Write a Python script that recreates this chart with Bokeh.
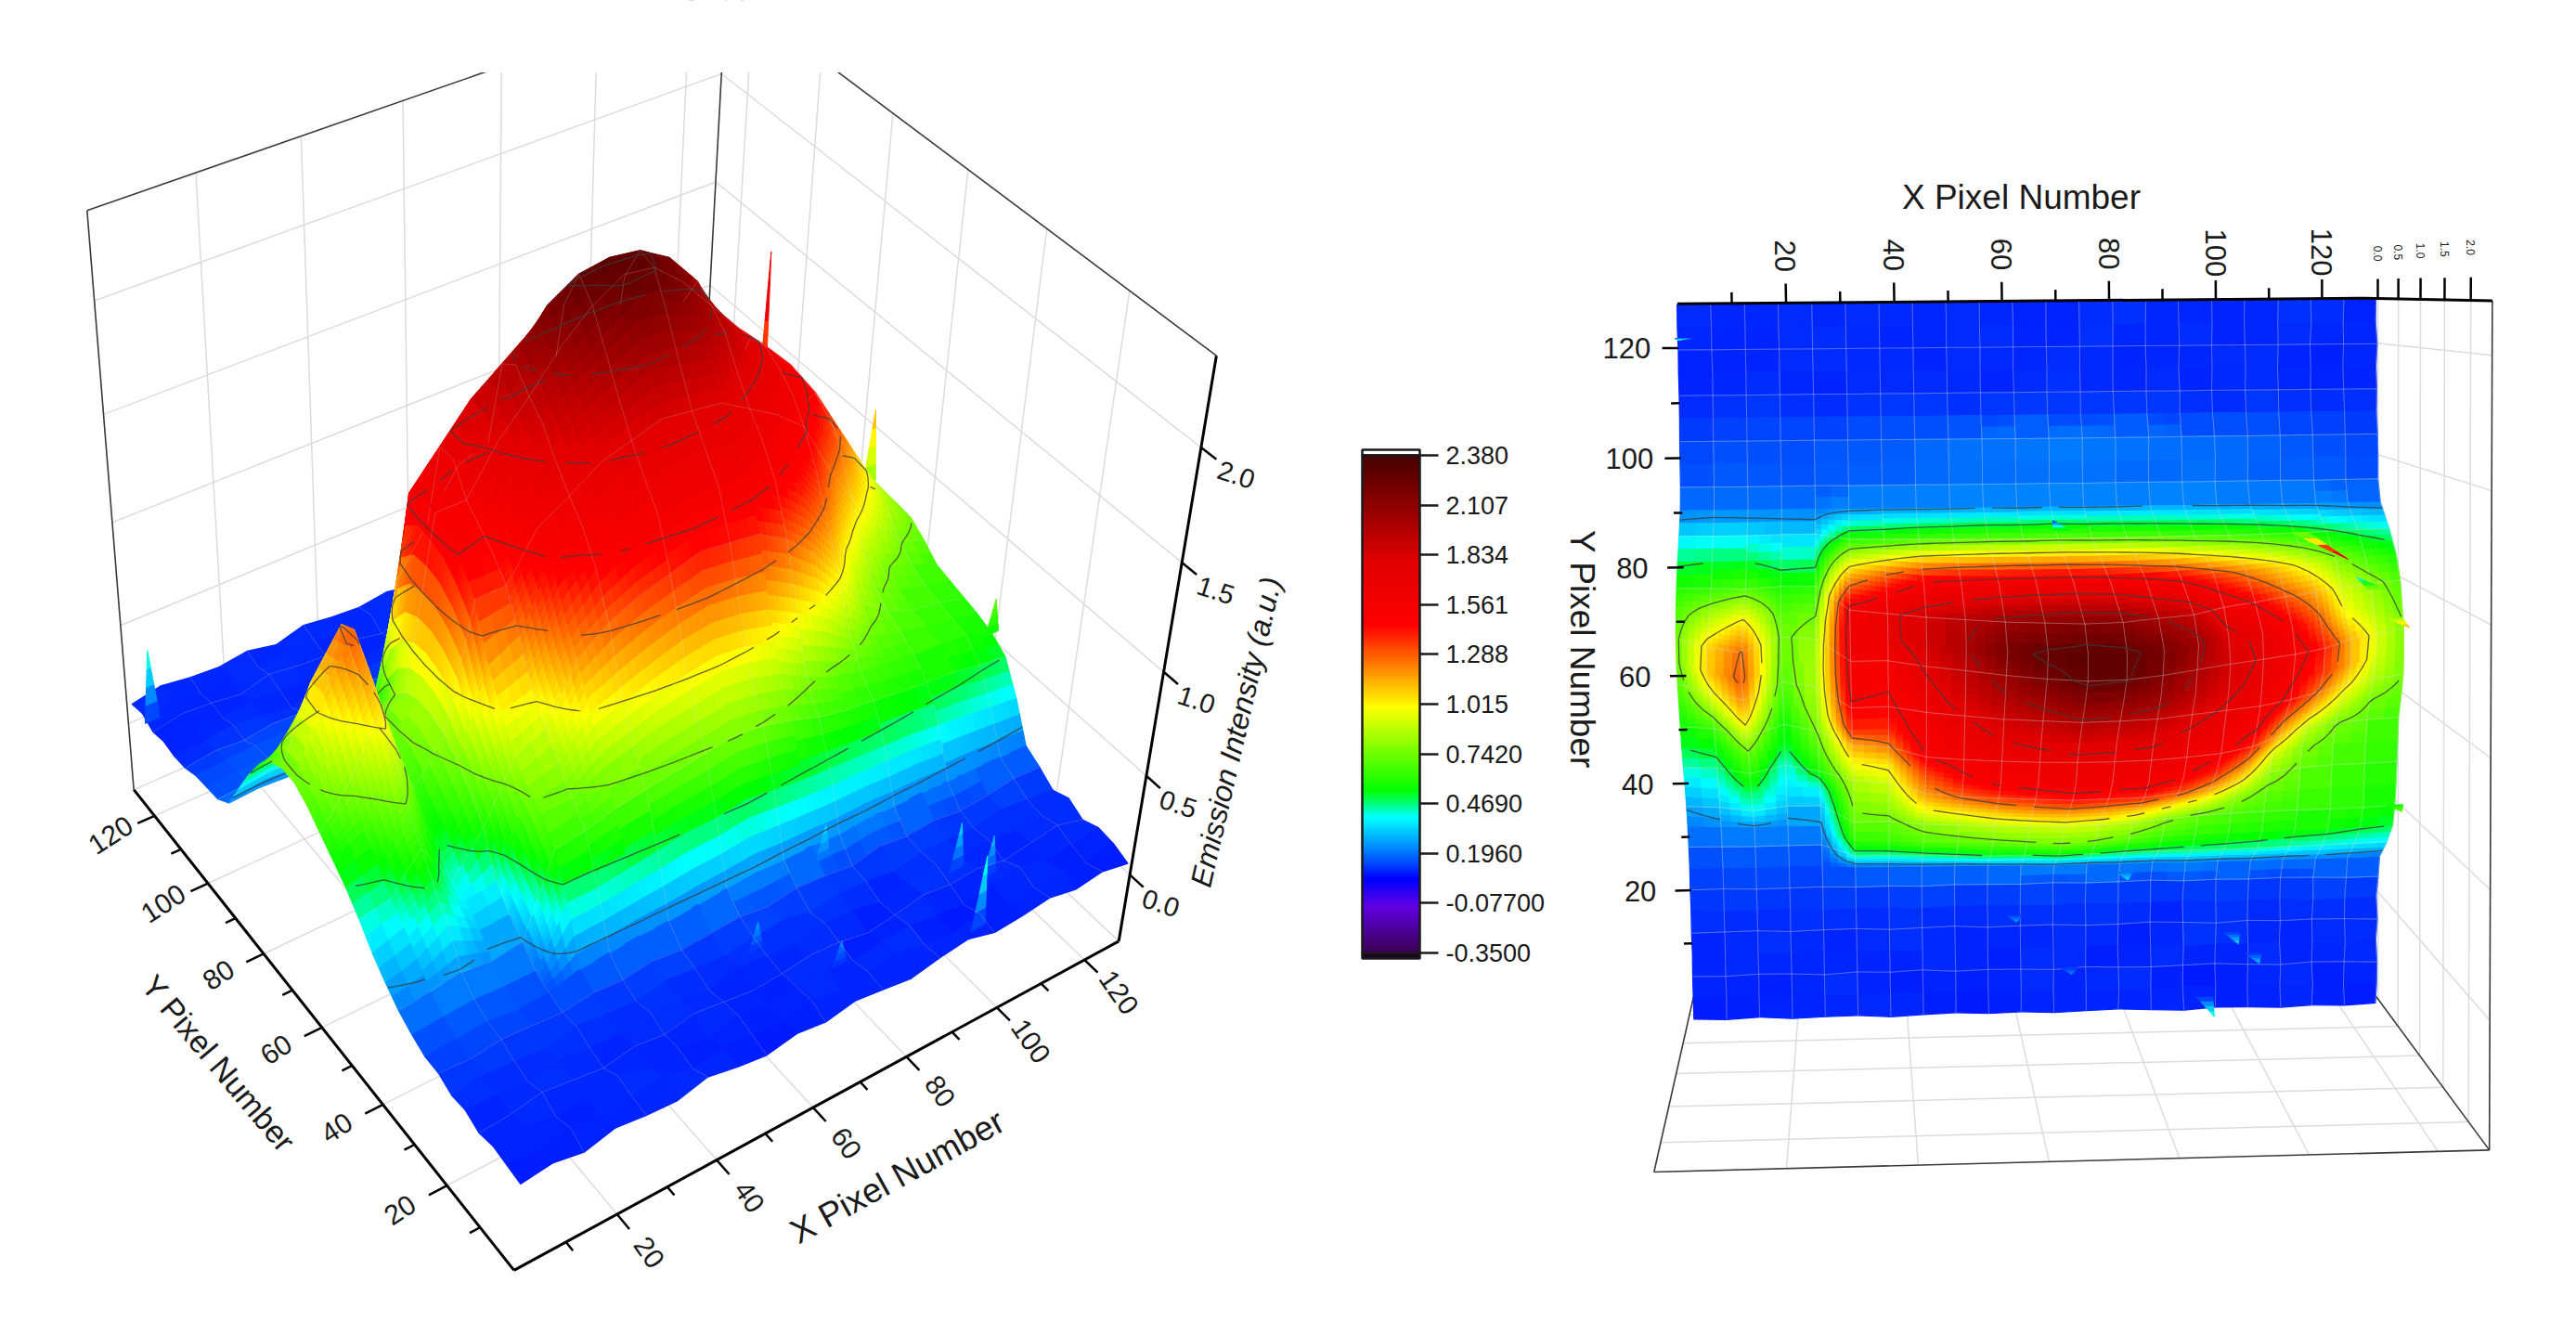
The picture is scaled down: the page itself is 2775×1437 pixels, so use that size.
import numpy as np
from bokeh.plotting import figure
from bokeh.models import ColumnDataSource, Range1d, ColorBar, LinearColorMapper, FixedTicker, AllLabels
from bokeh.embed import file_html
from bokeh.resources import INLINE

# ---------- data ----------
x_pixels = [1, 7, 13, 19, 25, 31, 37, 43, 49, 55, 61, 67, 73, 79, 85, 91, 97, 103, 109, 115, 121, 127]
y_pixels = list(range(0, 129, 4))
# emission intensity x 100
# background rows, y = 0..24, one list per y, one value per x pixel
low_rows = [
 [8,10,7,11,9,8,12,9,7,10,8,11,9,7,10,12,8,9,11,8,10,7],
 [9,7,11,8,10,12,8,10,9,7,11,8,10,12,9,7,10,8,9,11,7,10],
 [10,11,8,9,12,8,10,7,11,9,10,12,8,10,11,9,7,10,12,8,9,11],
 [8,9,12,10,8,11,9,12,10,8,9,11,10,7,9,12,10,11,8,10,12,8],
 [11,10,9,12,10,9,12,10,8,12,10,9,12,11,8,10,13,9,11,9,10,12],
 [10,12,11,9,13,11,10,13,11,10,12,13,10,12,11,9,12,11,10,13,11,9],
 [13,12,14,13,12,14,13,15,13,14,15,13,15,14,12,15,13,14,12,13,15,14],
]
# emission band, one list per x pixel, one value per y = 28, 32 .. 92
band_columns = [
 [13,16,20,26,33,42,50,56,62,68,72,72,68,60,48,34,20],
 [14,17,22,30,38,45,54,64,80,96,108,106,86,62,50,36,21],
 [15,18,24,40,50,62,72,88,106,120,130,126,102,68,50,36,20],
 [13,17,22,30,36,40,50,55,62,68,70,72,68,58,45,32,21],
 [14,17,24,30,40,58,68,76,82,85,85,82,74,60,46,32,20],
 [18,44,62,72,78,85,100,115,138,148,155,158,160,155,110,60,23],
 [19,44,64,72,82,92,104,122,138,146,152,158,170,170,130,62,24],
 [20,46,68,80,100,118,132,150,158,164,170,178,185,185,150,66,24],
 [20,48,70,84,105,128,146,158,166,175,186,192,200,195,155,68,24],
 [21,50,72,88,110,134,154,164,175,186,198,208,220,205,158,70,25],
 [22,50,74,90,114,138,158,168,179,192,206,220,228,210,160,70,24],
 [23,52,76,92,116,142,161,170,183,198,214,228,230,215,160,72,25],
 [22,50,74,90,114,140,160,170,181,196,212,226,228,212,158,70,24],
 [22,48,70,86,110,138,158,168,179,192,206,215,220,200,152,70,24],
 [21,47,65,78,102,130,150,162,171,182,194,200,205,190,145,68,25],
 [22,46,62,72,94,118,138,154,163,172,180,185,180,165,132,66,25],
 [21,45,60,68,82,102,120,138,152,162,168,172,170,148,120,65,24],
 [21,44,58,65,72,82,94,112,128,145,152,158,150,130,108,62,24],
 [20,42,56,63,68,72,78,90,108,124,136,140,128,115,94,58,23],
 [20,40,55,62,64,66,70,76,90,103,114,114,100,92,78,52,23],
 [19,38,52,60,62,64,66,70,76,86,92,94,86,80,66,46,21],
 [18,36,50,55,58,60,62,64,70,75,76,76,72,68,58,42,20],
]
# background rows, y = 96..128
high_rows = [
 [15,16,17,16,15,17,18,17,19,18,19,18,20,18,17,19,18,17,16,18,15,14],
 [14,15,16,14,16,17,15,18,19,20,18,21,19,20,18,19,20,18,17,16,15,14],
 [13,14,15,15,14,16,16,17,18,19,20,20,21,19,20,18,17,18,16,15,14,13],
 [10,12,11,13,12,11,14,12,13,12,14,13,12,14,13,12,11,13,12,11,12,10],
 [9,10,12,10,8,11,9,12,10,9,11,10,12,9,10,12,8,10,11,9,10,11],
 [10,8,9,11,10,9,12,8,11,10,8,12,10,9,11,8,10,12,9,10,8,9],
 [8,11,10,8,12,10,9,11,8,12,10,9,11,10,8,12,9,10,11,8,10,12],
 [11,9,8,12,9,11,10,8,12,9,11,8,10,12,9,10,11,8,10,12,9,8],
 [9,12,10,9,11,8,12,10,9,11,8,10,9,11,12,8,10,9,12,10,11,9],
]
# isolated spikes: x pixel, y pixel, intensity at the tip
spike_x = [110, 125, 127, 2, 80, 100, 104, 60, 95, 70, 122, 68]
spike_y = [88, 74, 40, 122, 26, 14, 10, 18, 2, 8, 79, 89]
spike_top = [1.82, 1.15, 0.72, 0.45, 0.35, 0.34, 0.3, 0.25, 0.45, 0.22, 0.3, 0.05]

x_major = [20, 40, 60, 80, 100, 120]
y_major = [20, 40, 60, 80, 100, 120]
minor_ticks = [10, 30, 50, 70, 90, 110]
z_major = [0.0, 0.5, 1.0, 1.5, 2.0]
z_labels = ["0.0", "0.5", "1.0", "1.5", "2.0"]
contour_levels = [0.25, 0.5, 0.75, 1.0, 1.25, 1.5, 1.75, 2.0, 2.25]
cbar_ticks = [2.38, 2.107, 1.834, 1.561, 1.288, 1.015, 0.742, 0.469, 0.196, -0.077, -0.35]
cbar_labels = ["2.380", "2.107", "1.834", "1.561", "1.288", "1.015", "0.7420", "0.4690", "0.1960", "-0.07700", "-0.3500"]
cmap_values = [-0.35, -0.1, 0.05, 0.2, 0.39, 0.54, 1.0, 1.45, 1.8, 2.38]
cmap_rgb = [(60, 0, 85), (95, 0, 225), (0, 0, 255), (0, 120, 255), (0, 255, 255),
            (0, 255, 0), (255, 255, 0), (255, 0, 0), (225, 0, 0), (70, 0, 0)]

Z = np.vstack([np.array(low_rows, float), np.array(band_columns, float).T, np.array(high_rows, float)]) / 100
XS = np.array(x_pixels, float)
YS = np.array(y_pixels, float)
ZB, ZT = -0.35, 2.38
XM, YM = 128.0, 128.0
rgb = np.array(cmap_rgb, float)


def colour(v):
    v = np.atleast_1d(v)
    c = np.stack([np.interp(v, cmap_values, rgb[:, i]) for i in range(3)], 1).round().astype(int)
    return ["#%02x%02x%02x" % tuple(t) for t in c]


def fit_camera(pairs):
    A = []
    for (x, y, z), (u, v) in pairs:
        X = [x / 100, y / 100, z, 1]
        A.append(X + [0, 0, 0, 0] + [-u / 1000 * a for a in X])
        A.append([0, 0, 0, 0] + X + [-v / 1000 * a for a in X])
    return np.linalg.svd(np.array(A))[2][-1].reshape(3, 4)


def project(P, x, y, z):
    x, y, z = np.broadcast_arrays(np.asarray(x, float), np.asarray(y, float), np.asarray(z, float))
    H = np.stack([x / 100, y / 100, z, np.ones_like(x)], -1) @ P.T
    return H[..., 0] / H[..., 2] * 1000, H[..., 1] / H[..., 2] * 1000, H[..., 2]


left_cam = fit_camera([
    ((0, 0, ZB), (553, 1363)), ((XM, 0, ZB), (1203, 1020)), ((0, YM, ZB), (145, 858)),
    ((0, YM, ZT), (92, 222)), ((XM, 0, ZT), (1312, 380)), ((XM, YM, ZT), (781, -7)), ((XM, YM, ZB), (750, 575))])
right_cam = fit_camera([
    ((0, YM, ZB), (1805, 326)), ((XM, YM, ZB), (2546, 322)), ((0, 0, ZB), (1825, 1073)), ((XM, 0, ZB), (2548, 1056)),
    ((XM, YM, ZT), (2685, 322)), ((XM, 0, ZT), (2680, 1239)), ((0, 0, ZT), (1780, 1262)), ((0, YM, ZT), (1760, 332))])


def surface(x, y):
    i = np.clip(np.searchsorted(XS, x) - 1, 0, len(XS) - 2)
    j = np.clip(np.searchsorted(YS, y) - 1, 0, len(YS) - 2)
    a = np.clip((x - XS[i]) / (XS[i + 1] - XS[i]), 0, 1)
    b = (y - YS[j]) / (YS[j + 1] - YS[j])
    return (Z[j, i] * (1 - a) * (1 - b) + Z[j, i + 1] * a * (1 - b) + Z[j + 1, i] * (1 - a) * b + Z[j + 1, i + 1] * a * b)


def surface_items(P, near, far, contour_bias, mesh_bias, spike_bias, mesh_alpha, mesh_dx, mesh_dy):
    wn, wf = project(P, *near)[2], project(P, *far)[2]
    sgn = 1 if wf > wn else -1
    span = abs(float(wf - wn))
    pts, fills, lines, lws, las, fas, depth = [], [], [], [], [], [], []

    def add(px, py, pz, fill, line, lw, la, fa, bias=0.0):
        u, v, w = project(P, px, py, pz)
        pts.append((u.tolist(), v.tolist()))
        fills.append(fill); lines.append(line); lws.append(lw); las.append(la); fas.append(fa)
        depth.append(sgn * float(w.mean()) - bias * span)

    for j in range(len(YS) - 1):
        for i in range(len(XS) - 1):
            cell = Z[j:j + 2, i:i + 2]
            n = min(int((cell.max() - cell.min()) / 0.08) + 1, 7)
            gx = np.linspace(XS[i], XS[i + 1], n + 1)
            gy = np.linspace(YS[j], YS[j + 1], n + 1)
            for b in range(n):
                for a in range(n):
                    qx = np.array([gx[a], gx[a + 1], gx[a + 1], gx[a]])
                    qy = np.array([gy[b], gy[b], gy[b + 1], gy[b + 1]])
                    qz = surface(qx, qy)
                    c = colour(qz.mean())[0]
                    add(qx, qy, qz, c, c, 1.2, 1.0, 1.0)

    fx = np.concatenate([np.linspace(XS[i], XS[i + 1], 4, endpoint=False) for i in range(len(XS) - 1)] + [XS[-1:]])
    fy = np.concatenate([np.linspace(YS[j], YS[j + 1], 4, endpoint=False) for j in range(len(YS) - 1)] + [YS[-1:]])
    GX, GY = np.meshgrid(fx, fy)
    F = surface(GX.ravel(), GY.ravel()).reshape(GX.shape)

    for xv in XS[mesh_dx::mesh_dx]:
        for b in range(len(fy) - 1):
            sy = fy[b:b + 2]
            sx = np.array([xv, xv])
            add(sx, sy, surface(sx, sy), "#000000", "#d8d8d8", 1.0, mesh_alpha, 0.0, mesh_bias)
    for yv in YS[mesh_dy::mesh_dy]:
        for a in range(len(fx) - 1):
            sx = fx[a:a + 2]
            sy = np.array([yv, yv])
            add(sx, sy, surface(sx, sy), "#000000", "#d8d8d8", 1.0, mesh_alpha, 0.0, mesh_bias)

    for lev in contour_levels:
        for j in range(len(fy) - 1):
            for i in range(len(fx) - 1):
                vals = [F[j, i], F[j, i + 1], F[j + 1, i + 1], F[j + 1, i]]
                if min(vals) >= lev or max(vals) <= lev:
                    continue
                cx = [fx[i], fx[i + 1], fx[i + 1], fx[i]]
                cy = [fy[j], fy[j], fy[j + 1], fy[j + 1]]
                cross = []
                for k in range(4):
                    m = (k + 1) % 4
                    if (vals[k] - lev) * (vals[m] - lev) < 0:
                        t = (lev - vals[k]) / (vals[m] - vals[k])
                        cross.append((cx[k] + t * (cx[m] - cx[k]), cy[k] + t * (cy[m] - cy[k])))
                if len(cross) >= 2:
                    sx = np.array([cross[0][0], cross[1][0]])
                    sy = np.array([cross[0][1], cross[1][1]])
                    add(sx, sy, np.array([lev, lev]), "#000000", "#3c3c3c", 1.3, 0.8, 0.0, contour_bias)

    for sx, sy, st in zip(spike_x, spike_y, spike_top):
        zb = float(surface(np.array([float(sx)]), np.array([float(sy)]))[0])
        lv = np.linspace(zb, st, 5)
        wd = np.linspace(1.5, 0.0, 5)
        for k in range(4):
            qx = np.array([sx - wd[k], sx + wd[k], sx + wd[k + 1], sx - wd[k + 1]])
            qy = np.full(4, float(sy))
            qz = np.array([lv[k], lv[k], lv[k + 1], lv[k + 1]])
            c = colour((lv[k] + lv[k + 1]) / 2)[0]
            add(qx, qy, qz, c, c, 1.0, 1.0, 1.0, spike_bias)

    order = np.argsort(depth)[::-1]
    return dict(xs=[pts[k][0] for k in order], ys=[pts[k][1] for k in order],
                f=[fills[k] for k in order], l=[lines[k] for k in order], lw=[lws[k] for k in order],
                la=[las[k] for k in order], fa=[fas[k] for k in order])


W, H = 2759, 1421
p = figure(width=W, height=H, x_range=Range1d(0, W), y_range=Range1d(H, 0), output_backend="svg",
           toolbar_location=None, x_axis_type=None, y_axis_type=None, min_border=0, outline_line_color=None)
p.grid.visible = False


def seg(P, a, b, colour_, width):
    ua, va, _ = project(P, *a)
    ub, vb, _ = project(P, *b)
    p.line([float(ua), float(ub)], [float(va), float(vb)], line_color=colour_, line_width=width)


GRID = "#dcdcdc"
EDGE = "#3a3a3a"

# ---------- left 3D view ----------
L = left_cam
for v in x_major:
    seg(L, (v, YM, ZB), (v, YM, ZT), GRID, 1.5)
    seg(L, (v, 0, ZB), (v, YM, ZB), GRID, 1.5)
for v in y_major:
    seg(L, (XM, v, ZB), (XM, v, ZT), GRID, 1.5)
    seg(L, (0, v, ZB), (XM, v, ZB), GRID, 1.5)
for v in z_major:
    seg(L, (0, YM, v), (XM, YM, v), GRID, 1.5)
    seg(L, (XM, YM, v), (XM, 0, v), GRID, 1.5)
seg(L, (0, YM, ZB), (0, YM, ZT), EDGE, 1.6)
seg(L, (XM, YM, ZB), (XM, YM, ZT), EDGE, 1.6)
seg(L, (0, YM, ZT), (XM, YM, ZT), EDGE, 1.6)
seg(L, (XM, 0, ZT), (XM, YM, ZT), EDGE, 1.6)
seg(L, (0, YM, ZB), (XM, YM, ZB), GRID, 1.5)
seg(L, (XM, 0, ZB), (XM, YM, ZB), GRID, 1.5)
p.quad(left=[0], right=[1500], top=[0], bottom=[77], fill_color="white", line_color="white")
d = surface_items(L, (0, 0, ZT), (XM, YM, ZB), 0.08, 0.07, 0.02, 0.12, 2, 3)
p.patches("xs", "ys", source=ColumnDataSource(d), fill_color="f", line_color="l", line_width="lw", line_alpha="la", fill_alpha="fa")
seg(L, (0, 0, ZB), (XM, 0, ZB), "#000000", 3)
seg(L, (0, 0, ZB), (0, YM, ZB), "#000000", 3)
seg(L, (XM, 0, ZB), (XM, 0, ZT), "#000000", 3)
for v in x_major:
    seg(L, (v, 0, ZB), (v, -3.5, ZB), "#000000", 2.5)
for v in y_major:
    seg(L, (0, v, ZB), (-3.5, v, ZB), "#000000", 2.5)
for v in minor_ticks:
    seg(L, (v, 0, ZB), (v, -2, ZB), "#000000", 2.5)
    seg(L, (0, v, ZB), (-2, v, ZB), "#000000", 2.5)
for v in z_major:
    seg(L, (XM, 0, v), (XM, -3.5, v), "#000000", 2.5)


def labels(P, pos, texts, angle, size, style="normal", color="#1a1a1a"):
    u, v, _ = project(P, *[np.array(c, float) for c in pos])
    p.text(u.tolist(), v.tolist(), text=texts, angle=angle, angle_units="deg", text_align="center", text_baseline="middle",
           text_font={"value": "Liberation Sans"}, text_font_size=size, text_font_style=style, text_color=color)


labels(L, (x_major, [-9] * 6, [ZB] * 6), [str(v) for v in x_major], -55, "30px")
labels(L, ([-9] * 6, y_major, [ZB] * 6), [str(v) for v in y_major], 33, "30px")
labels(L, ([XM] * 5, [-8] * 5, z_major), z_labels, -18, "29px")


def title(x, y, t, angle, size, style="normal"):
    p.text([x], [y], text=[t], angle=angle, angle_units="deg", text_align="center", text_baseline="middle",
           text_font={"value": "Liberation Sans"}, text_font_size=size, text_font_style=style, text_color="#1a1a1a")


title(235, 1145, "Y Pixel Number", -50, "34px")
title(966, 1267, "X Pixel Number", 29, "37px")
title(1331, 788, "Emission Intensity (a.u.)", 77, "32px", "italic")

# ---------- right top view ----------
R = right_cam
for v in x_major:
    seg(R, (v, 0, ZB), (v, 0, ZT), GRID, 1.5)
for v in y_major:
    seg(R, (XM, v, ZB), (XM, v, ZT), GRID, 1.5)
for v in z_major:
    seg(R, (0, 0, v), (XM, 0, v), GRID, 1.5)
    seg(R, (XM, 0, v), (XM, YM, v), GRID, 1.5)
seg(R, (0, 0, ZT), (XM, 0, ZT), EDGE, 1.6)
seg(R, (XM, 0, ZT), (XM, YM, ZT), EDGE, 1.6)
seg(R, (0, 0, ZB), (0, 0, ZT), EDGE, 1.6)
seg(R, (XM, 0, ZB), (XM, 0, ZT), EDGE, 1.6)
seg(R, (0, 0, ZB), (XM, 0, ZB), GRID, 1.5)
d2 = surface_items(R, (0, 0, ZT), (XM, YM, ZB), 3.0, 2.5, 4.0, 0.22, 1, 2)
p.patches("xs", "ys", source=ColumnDataSource(d2), fill_color="f", line_color="l", line_width="lw", line_alpha="la", fill_alpha="fa")
seg(R, (0, YM, ZB), (XM, YM, ZB), "#000000", 3)
seg(R, (XM, YM, ZB), (XM, YM, ZT), "#000000", 3)
for v in x_major:
    seg(R, (v, YM, ZB), (v, YM + 3.5, ZB), "#000000", 2.5)
for v in minor_ticks:
    seg(R, (v, YM, ZB), (v, YM + 2, ZB), "#000000", 2.5)
for v in y_major:
    seg(R, (0, v, ZB), (-3, v, ZB), "#000000", 2.5)
for v in minor_ticks:
    seg(R, (0, v, ZB), (-1.6, v, ZB), "#000000", 2.5)
for v in z_major:
    seg(R, (XM, YM, v), (XM, YM + 3.5, v), "#000000", 2.5)
labels(R, (x_major, [YM + 8.5] * 6, [ZB] * 6), [str(v) for v in x_major], -90, "31px")
labels(R, ([-9.5] * 6, y_major, [ZB] * 6), [str(v) for v in y_major], 0, "31px")
labels(R, ([XM] * 5, [YM + 8] * 5, z_major), z_labels, -90, "12px")
title(2177, 212, "X Pixel Number", 0, "37px")
title(1704, 699, "Y Pixel Number", -90, "37px")

# ---------- colour bar ----------
mapper = LinearColorMapper(palette=colour(np.linspace(ZB, ZT, 256)), low=ZB, high=ZT)
bar = ColorBar(color_mapper=mapper, ticker=FixedTicker(ticks=cbar_ticks),
               major_label_overrides={t: s for t, s in zip(cbar_ticks, cbar_labels)},
               major_label_policy=AllLabels(),
               location=(1467, H - 1026), width=62, height=536, padding=0, margin=0,
               background_fill_alpha=0, bar_line_color="#1a1a1a", bar_line_width=2.5,
               major_tick_in=0, major_tick_out=20, major_tick_line_color="#1a1a1a", major_tick_line_width=2.5,
               minor_tick_line_color=None, label_standoff=8,
               major_label_text_font="Liberation Sans", major_label_text_font_size="27px",
               major_label_text_color="#1a1a1a")
p.add_layout(bar)
p.quad(left=[1467], right=[1529], top=[484], bottom=[490], fill_color="white", line_color="#1a1a1a", line_width=2.5)
p.quad(left=[1467], right=[1529], top=[1026], bottom=[1032], fill_color="#1a0020", line_color="#1a1a1a", line_width=2.5)

open("out.html", "w").write(file_html(p, INLINE))
